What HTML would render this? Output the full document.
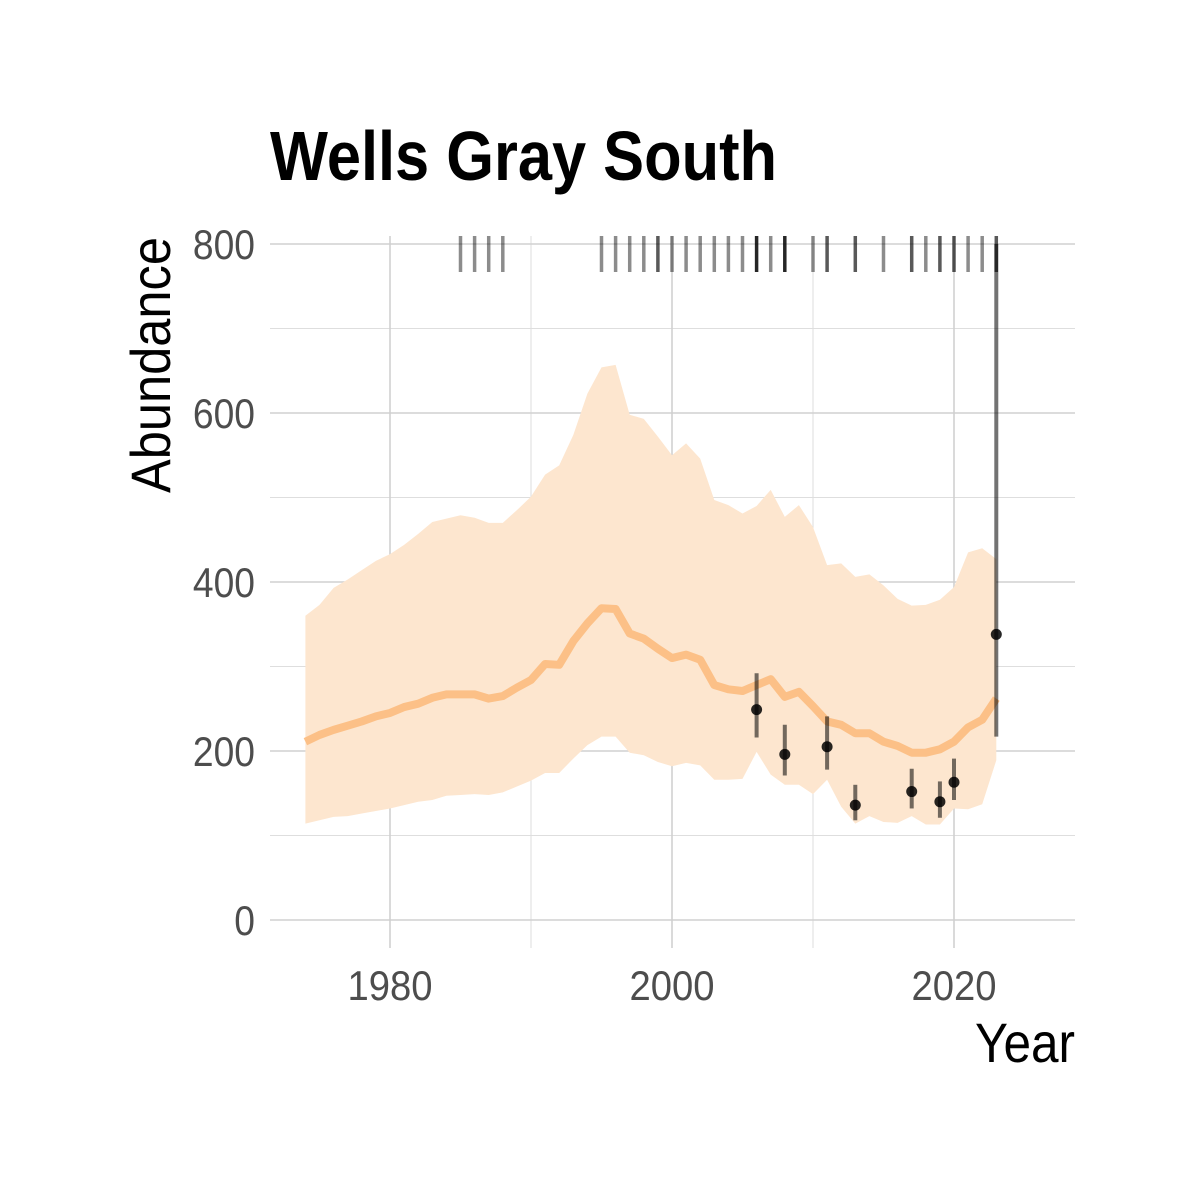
<!DOCTYPE html>
<html><head><meta charset="utf-8"><style>
html,body{margin:0;padding:0;background:#fff;}
svg{display:block;}
text{font-family:"Liberation Sans Narrow","Liberation Sans",sans-serif;}
</style></head><body>
<svg id="chart" width="1200" height="1200" viewBox="0 0 1200 1200" xmlns="http://www.w3.org/2000/svg">
<rect x="0" y="0" width="1200" height="1200" fill="#fff"/>
<g id="grid"></g>
<g id="ribbon"></g>
<g id="rug"></g>
<g id="pts"></g>
<g id="axes"></g>
<text x="270" y="180" font-size="70" font-weight="bold" fill="#000" textLength="507" lengthAdjust="spacingAndGlyphs">Wells Gray South</text>
<text transform="translate(170,365) rotate(-90)" text-anchor="middle" font-size="56" fill="#000" textLength="256" lengthAdjust="spacingAndGlyphs">Abundance</text>
<text x="1075" y="1062" text-anchor="end" font-size="56" fill="#000" textLength="100" lengthAdjust="spacingAndGlyphs">Year</text>
</svg>
<script>
const years=[];for(let y=1974;y<=2023;y++)years.push(y);
const median=[211,219,225,230,235,241,245,252,256,263,267,267,267,262,265,275,284,303,302,330,351,369,368,339,333,321,310,314,308,278,273,271,278,285,264,270,253,235,231,221,221,211,206,198,198,202,211,228,237,262];
const upper=[360,373,393,403,414,425,433,444,457,471,475,479,476,470,470,485,501,527,538,574,623,654,657,598,593,572,550,564,546,497,491,481,490,509,477,491,465,420,422,406,409,396,380,372,373,379,394,435,440,427];
const lower=[114,118,122,123,126,129,132,136,140,142,147,148,149,148,151,158,165,174,174,191,207,217,217,198,195,187,182,186,183,166,166,167,199,172,160,160,149,166,134,114,123,116,115,123,113,113,132,131,137,189];
const obsYears=[2006,2008,2011,2013,2017,2019,2020,2023];
const obsVal=[249,196,205,136,152,140,163,338];
const obsLo=[216,171,178,118,132,121,142,217];
const obsHi=[292,231,241,160,179,164,191,900];
const rugYears=[1985,1986,1987,1988,1995,1996,1997,1998,1999,2000,2001,2002,2003,2004,2005,2006,2007,2008,2010,2011,2013,2015,2017,2018,2019,2020,2021,2022,2023];
const rugCount=[1,1,1,1,1,1,1,1,2,1,1,1,1,1,1,3,1,3,1,2,2,1,2,1,2,2,1,1,2];
const yTicks=[0,200,400,600,800];
const yMinor=[100,300,500,700];
const xTicks=[1980,2000,2020];
const xMinor=[1990,2010];

const X=y=>390+(y-1980)*14.1;
const Y=v=>920-v*0.845;
const NS='http://www.w3.org/2000/svg';
function mk(tag,attrs,parent){const e=document.createElementNS(NS,tag);for(const k in attrs)e.setAttribute(k,attrs[k]);parent.appendChild(e);return e;}
const grid=document.getElementById('grid'),axes=document.getElementById('axes');
const PL=270,PR=1075,PT=236,PB=948;
yMinor.forEach(v=>{const l=mk('line',{x1:PL,x2:PR,y1:Y(v),y2:Y(v),stroke:'#dedede','stroke-width':1},grid);

});
xMinor.forEach(v=>{const l=mk('line',{x1:X(v),x2:X(v),y1:PT,y2:PB,stroke:'#dedede','stroke-width':1},grid);

});
yTicks.forEach(v=>{const l=mk('line',{x1:PL,x2:PR,y1:Y(v),y2:Y(v),stroke:'#d0d0d0','stroke-width':1.6},grid);


const t=mk('text',{x:255,y:Y(v)+15,'text-anchor':'end','font-size':42,fill:'#4d4d4d',textLength:String(v).length*20.7,lengthAdjust:'spacingAndGlyphs'},axes);t.textContent=v;

});
xTicks.forEach(v=>{const l=mk('line',{x1:X(v),x2:X(v),y1:PT,y2:PB,stroke:'#d0d0d0','stroke-width':1.6},grid);


const t=mk('text',{x:X(v),y:1000,'text-anchor':'middle','font-size':42,fill:'#4d4d4d',textLength:85,lengthAdjust:'spacingAndGlyphs'},axes);t.textContent=v;

});
const rib=document.getElementById('ribbon');
let d='';years.forEach((y,i)=>{d+=(i?'L':'M')+X(y)+','+Y(upper[i]);});
for(let i=years.length-1;i>=0;i--)d+='L'+X(years[i])+','+Y(lower[i]);d+='Z';
const band=mk('path',{d:d,fill:'#fde6cf'},rib);


let ld='';years.forEach((y,i)=>{ld+=(i?'L':'M')+X(y)+','+Y(median[i]);});
const line=mk('path',{d:ld,fill:'none',stroke:'#fcc087','stroke-width':8,'stroke-linejoin':'round'},rib);


const rug=document.getElementById('rug');
rugYears.forEach((y,i)=>{const l=mk('line',{x1:X(y),x2:X(y),y1:236,y2:272,stroke:'#000','stroke-opacity':Math.min(0.85,0.45+0.2*(rugCount[i]-1)),'stroke-width':3.5},rug);

});
const pts=document.getElementById('pts');
obsYears.forEach((y,i)=>{const hi=Math.min(obsHi[i],800);
const e=mk('line',{x1:X(y),x2:X(y),y1:Y(hi),y2:Y(obsLo[i]),stroke:'#000','stroke-opacity':0.55,'stroke-width':4},pts);


const c=mk('circle',{cx:X(y),cy:Y(obsVal[i]),r:5.5,fill:'#000','fill-opacity':0.85},pts);

});
</script>
</body></html>
